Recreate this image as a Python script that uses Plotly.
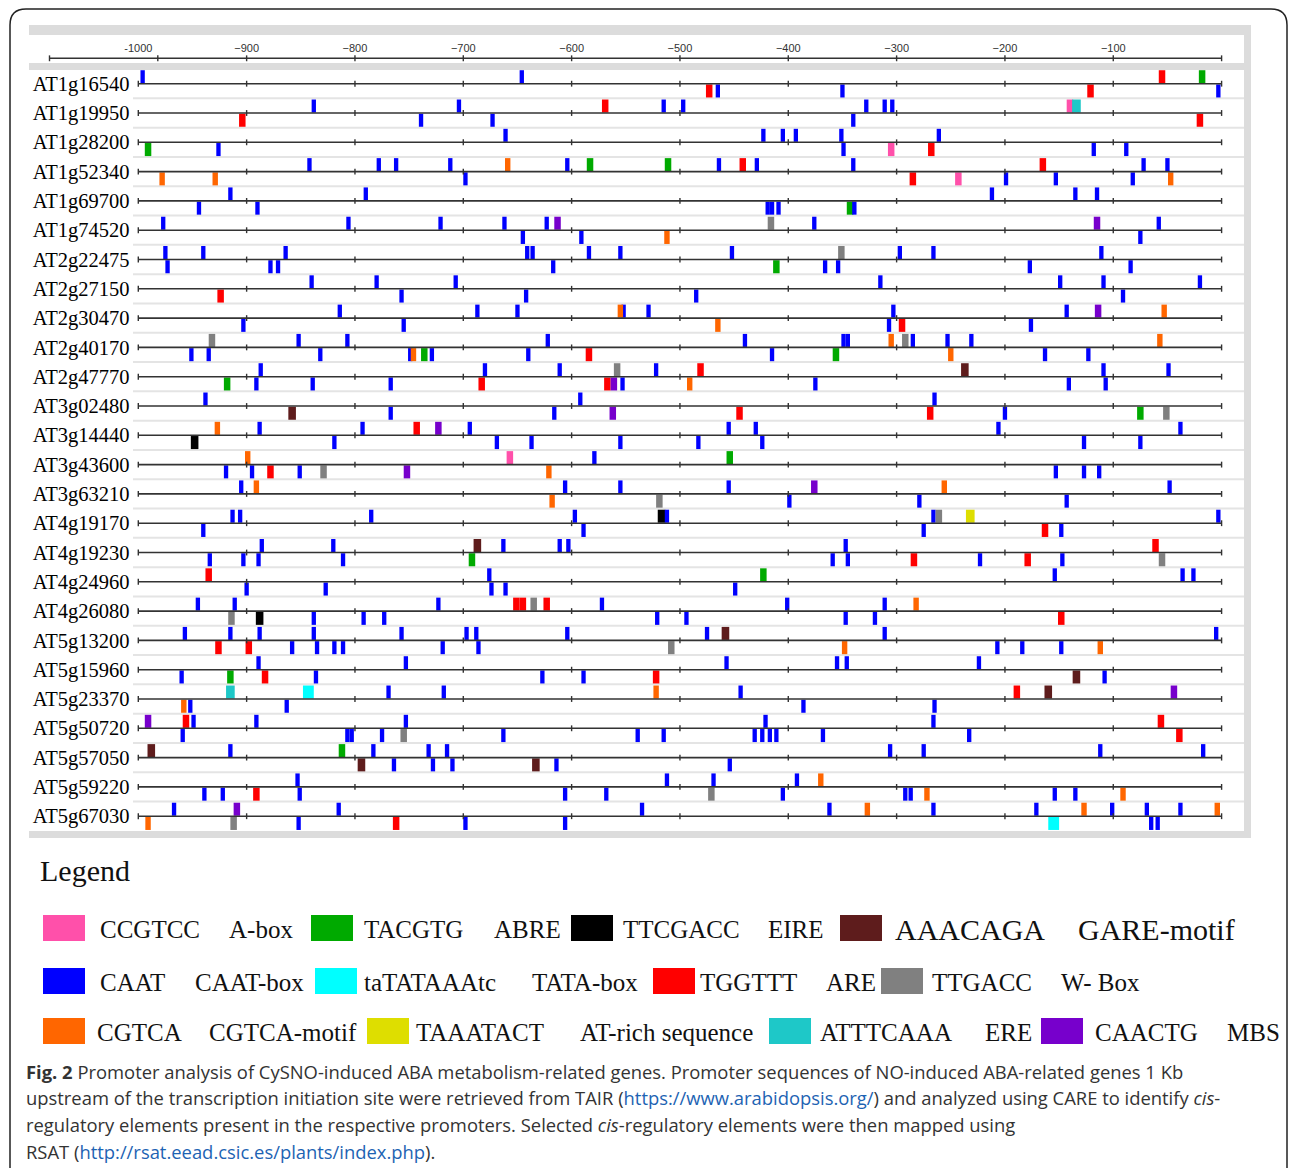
import plotly.graph_objects as go

# ---------------- data ----------------
GENES = ["AT1g16540", "AT1g19950", "AT1g28200", "AT1g52340", "AT1g69700", "AT1g74520",
         "AT2g22475", "AT2g27150", "AT2g30470", "AT2g40170", "AT2g47770", "AT3g02480",
         "AT3g14440", "AT3g43600", "AT3g63210", "AT4g19170", "AT4g19230", "AT4g24960",
         "AT4g26080", "AT5g13200", "AT5g15960", "AT5g23370", "AT5g50720", "AT5g57050",
         "AT5g59220", "AT5g67030"]

AXIS_TICKS = [-1000, -900, -800, -700, -600, -500, -400, -300, -200, -100]
AXIS_TICK_TEXT = ["-1000", "\u2212900", "\u2212800", "\u2212700", "\u2212600", "\u2212500",
                  "\u2212400", "\u2212300", "\u2212200", "\u2212100"]

MOTIF_CODES = ["P", "G", "K", "N", "B", "C", "R", "Y", "O", "L", "T", "V"]
MOTIF_SEQS = ["CCGTCC", "TACGTG", "TTCGACC", "AAACAGA", "CAAT", "taTATAAAtc",
              "TGGTTT", "TTGACC", "CGTCA", "TAAATACT", "ATTTCAAA", "CAACTG"]
MOTIF_NAMES = ["A-box", "ABRE", "EIRE", "GARE-motif", "CAAT-box", "TATA-box",
               "ARE", "W- Box", "CGTCA-motif", "AT-rich sequence", "ERE", "MBS"]
MOTIF_COLORS = ["#ff50aa", "#00aa00", "#000000", "#5e1c1c", "#0000ff", "#00ffff",
                "#ff0000", "#808080", "#ff6600", "#dede00", "#1ec8c8", "#7700cc"]

# marks per gene: (position, strand, motif code)
AT1g16540 = [(-996, "+", "B"), (-646, "+", "B"), (-55, "+", "R"), (-18, "+", "G"),
             (-473, "-", "R"), (-465, "-", "B"), (-350, "-", "B"), (-121, "-", "R"), (-3, "-", "B")]
AT1g19950 = [(-838, "+", "B"), (-704, "+", "B"), (-569, "+", "R"), (-515, "+", "B"), (-497, "+", "B"),
             (-328, "+", "B"), (-311, "+", "B"), (-304, "+", "B"), (-140, "+", "P"), (-134, "+", "T"),
             (-904, "-", "R"), (-739, "-", "B"), (-673, "-", "B"), (-340, "-", "B"), (-20, "-", "R")]
AT1g28200 = [(-661, "+", "B"), (-423, "+", "B"), (-405, "+", "B"), (-393, "+", "B"), (-351, "+", "B"),
             (-261, "+", "B"),
             (-991, "-", "G"), (-926, "-", "B"), (-349, "-", "B"), (-305, "-", "P"), (-268, "-", "R"),
             (-118, "-", "B"), (-88, "-", "B")]
AT1g52340 = [(-842, "+", "B"), (-778, "+", "B"), (-762, "+", "B"), (-712, "+", "B"), (-659, "+", "O"),
             (-604, "+", "B"), (-583, "+", "G"), (-511, "+", "G"), (-464, "+", "B"), (-442, "+", "R"),
             (-429, "+", "B"), (-340, "+", "B"), (-165, "+", "R"), (-72, "+", "B"), (-50, "+", "B"),
             (-978, "-", "O"), (-929, "-", "O"), (-698, "-", "B"), (-285, "-", "R"), (-243, "-", "P"),
             (-199, "-", "B"), (-153, "-", "B"), (-82, "-", "B"), (-47, "-", "O")]
AT1g69700 = [(-915, "+", "B"), (-790, "+", "B"), (-212, "+", "B"), (-135, "+", "B"), (-115, "+", "B"),
             (-944, "-", "B"), (-890, "-", "B"), (-419, "-", "B"), (-415, "-", "B"), (-409, "-", "B"),
             (-343, "-", "G"), (-339, "-", "B")]
AT1g74520 = [(-977, "+", "B"), (-806, "+", "B"), (-721, "+", "B"), (-662, "+", "B"), (-623, "+", "B"),
             (-613, "+", "V"), (-416, "+", "Y"), (-376, "+", "B"), (-115, "+", "V"), (-58, "+", "B"),
             (-645, "-", "B"), (-591, "-", "B"), (-512, "-", "O"), (-75, "-", "B")]
AT2g22475 = [(-975, "+", "B"), (-940, "+", "B"), (-864, "+", "B"), (-641, "+", "B"), (-636, "+", "B"),
             (-584, "+", "B"), (-555, "+", "B"), (-452, "+", "B"), (-351, "+", "Y"), (-297, "+", "B"),
             (-266, "+", "B"), (-111, "+", "B"),
             (-973, "-", "B"), (-878, "-", "B"), (-871, "-", "B"), (-617, "-", "B"), (-411, "-", "G"),
             (-366, "-", "B"), (-354, "-", "B"), (-177, "-", "B"), (-84, "-", "B")]
AT2g27150 = [(-840, "+", "B"), (-780, "+", "B"), (-707, "+", "B"), (-315, "+", "B"), (-149, "+", "B"),
             (-109, "+", "B"), (-20, "+", "B"),
             (-924, "-", "R"), (-757, "-", "B"), (-642, "-", "B"), (-485, "-", "B"), (-91, "-", "B")]
AT2g30470 = [(-814, "+", "B"), (-687, "+", "B"), (-650, "+", "B"), (-555, "+", "O"), (-552, "+", "B"),
             (-529, "+", "B"), (-303, "+", "B"), (-143, "+", "B"), (-114, "+", "V"), (-53, "+", "O"),
             (-903, "-", "B"), (-755, "-", "B"), (-465, "-", "O"), (-307, "-", "B"), (-295, "-", "R"),
             (-176, "-", "B")]
AT2g40170 = [(-932, "+", "Y"), (-852, "+", "B"), (-807, "+", "B"), (-622, "+", "B"), (-440, "+", "B"),
             (-349, "+", "B"), (-345, "+", "B"), (-305, "+", "O"), (-292, "+", "Y"), (-285, "+", "B"),
             (-253, "+", "B"), (-231, "+", "B"), (-57, "+", "O"),
             (-951, "-", "B"), (-935, "-", "B"), (-832, "-", "B"), (-749, "-", "B"), (-746, "-", "O"),
             (-736, "-", "G"), (-729, "-", "B"), (-640, "-", "B"), (-584, "-", "R"), (-415, "-", "B"),
             (-356, "-", "G"), (-250, "-", "O"), (-163, "-", "B"), (-123, "-", "B")]
AT2g47770 = [(-887, "+", "B"), (-680, "+", "B"), (-611, "+", "B"), (-558, "+", "Y"), (-522, "+", "B"),
             (-481, "+", "R"), (-237, "+", "N"), (-109, "+", "B"), (-49, "+", "B"),
             (-918, "-", "G"), (-891, "-", "B"), (-839, "-", "B"), (-767, "-", "B"), (-683, "-", "R"),
             (-567, "-", "R"), (-561, "-", "V"), (-553, "-", "B"), (-491, "-", "O"), (-375, "-", "B"),
             (-141, "-", "B"), (-107, "-", "B")]
AT3g02480 = [(-938, "+", "B"), (-592, "+", "B"), (-265, "+", "B"),
             (-858, "-", "N"), (-767, "-", "B"), (-616, "-", "B"), (-562, "-", "V"), (-445, "-", "R"),
             (-269, "-", "R"), (-200, "-", "B"), (-75, "-", "G"), (-51, "-", "Y")]
AT3g14440 = [(-927, "+", "O"), (-888, "+", "B"), (-793, "+", "B"), (-743, "+", "R"), (-723, "+", "V"),
             (-694, "+", "B"), (-455, "+", "B"), (-430, "+", "B"), (-206, "+", "B"), (-38, "+", "B"),
             (-948, "-", "K"), (-819, "-", "B"), (-669, "-", "B"), (-637, "-", "B"), (-555, "-", "B"),
             (-483, "-", "B"), (-424, "-", "B"), (-127, "-", "B"), (-75, "-", "B")]
AT3g43600 = [(-899, "+", "O"), (-657, "+", "P"), (-579, "+", "B"), (-454, "+", "G"),
             (-919, "-", "B"), (-895, "-", "B"), (-878, "-", "R"), (-851, "-", "B"), (-829, "-", "Y"),
             (-752, "-", "V"), (-621, "-", "O"), (-153, "-", "B"), (-127, "-", "B"), (-113, "-", "B")]
AT3g63210 = [(-905, "+", "B"), (-891, "+", "O"), (-606, "+", "B"), (-555, "+", "B"), (-455, "+", "B"),
             (-376, "+", "V"), (-256, "+", "O"), (-48, "+", "B"),
             (-618, "-", "O"), (-519, "-", "Y"), (-399, "-", "B"), (-279, "-", "B"), (-143, "-", "B")]
AT4g19170 = [(-913, "+", "B"), (-906, "+", "B"), (-785, "+", "B"), (-597, "+", "B"), (-517, "+", "K"),
             (-512, "+", "B"), (-266, "+", "B"), (-261, "+", "Y"), (-232, "+", "L"), (-3, "+", "B"),
             (-940, "-", "B"), (-589, "-", "B"), (-275, "-", "B"), (-163, "-", "R"), (-148, "-", "B")]
AT4g19230 = [(-886, "+", "B"), (-820, "+", "B"), (-687, "+", "N"), (-663, "+", "B"), (-611, "+", "B"),
             (-603, "+", "B"), (-347, "+", "B"), (-61, "+", "R"),
             (-934, "-", "B"), (-903, "-", "B"), (-889, "-", "B"), (-811, "-", "B"), (-692, "-", "G"),
             (-359, "-", "B"), (-345, "-", "B"), (-284, "-", "R"), (-223, "-", "B"), (-179, "-", "R"),
             (-147, "-", "B"), (-55, "-", "Y")]
AT4g24960 = [(-935, "+", "R"), (-676, "+", "B"), (-423, "+", "G"), (-154, "+", "B"), (-36, "+", "B"),
             (-26, "+", "B"),
             (-900, "-", "B"), (-827, "-", "B"), (-674, "-", "B"), (-661, "-", "B"), (-449, "-", "B")]
AT4g26080 = [(-945, "+", "B"), (-911, "+", "B"), (-723, "+", "B"), (-651, "+", "R"), (-645, "+", "R"),
             (-635, "+", "Y"), (-623, "+", "R"), (-572, "+", "B"), (-401, "+", "B"), (-311, "+", "B"),
             (-282, "+", "O"),
             (-914, "-", "Y"), (-888, "-", "K"), (-838, "-", "B"), (-792, "-", "B"), (-773, "-", "B"),
             (-521, "-", "B"), (-494, "-", "B"), (-347, "-", "B"), (-320, "-", "B"), (-148, "-", "R")]
AT5g13200 = [(-957, "+", "B"), (-915, "+", "B"), (-888, "+", "B"), (-838, "+", "B"), (-757, "+", "B"),
             (-697, "+", "B"), (-688, "+", "B"), (-604, "+", "B"), (-475, "+", "B"), (-458, "+", "N"),
             (-311, "+", "B"), (-5, "+", "B"),
             (-926, "-", "R"), (-898, "-", "R"), (-858, "-", "B"), (-835, "-", "B"), (-819, "-", "B"),
             (-811, "-", "B"), (-719, "-", "B"), (-686, "-", "B"), (-508, "-", "Y"), (-348, "-", "O"),
             (-207, "-", "B"), (-184, "-", "B"), (-148, "-", "B"), (-112, "-", "O")]
AT5g15960 = [(-889, "+", "B"), (-753, "+", "B"), (-457, "+", "B"), (-355, "+", "B"), (-346, "+", "B"),
             (-224, "+", "B"),
             (-960, "-", "B"), (-915, "-", "G"), (-883, "-", "R"), (-836, "-", "B"), (-627, "-", "B"),
             (-589, "-", "B"), (-522, "-", "R"), (-134, "-", "N"), (-108, "-", "B")]
AT5g23370 = [(-915, "+", "T"), (-843, "+", "C"), (-769, "+", "B"), (-718, "+", "B"), (-522, "+", "O"),
             (-444, "+", "B"), (-189, "+", "R"), (-160, "+", "N"), (-44, "+", "V"),
             (-958, "-", "O"), (-952, "-", "B"), (-863, "-", "B"), (-386, "-", "B"), (-265, "-", "B")]
AT5g50720 = [(-991, "+", "V"), (-956, "+", "R"), (-949, "+", "B"), (-891, "+", "B"), (-753, "+", "B"),
             (-421, "+", "B"), (-266, "+", "B"), (-56, "+", "R"),
             (-959, "-", "B"), (-807, "-", "B"), (-803, "-", "B"), (-775, "-", "B"), (-755, "-", "Y"),
             (-663, "-", "B"), (-539, "-", "B"), (-515, "-", "B"), (-431, "-", "B"), (-424, "-", "B"),
             (-417, "-", "B"), (-411, "-", "B"), (-368, "-", "B"), (-233, "-", "B"), (-39, "-", "R")]
AT5g57050 = [(-988, "+", "N"), (-915, "+", "B"), (-812, "+", "G"), (-783, "+", "B"), (-732, "+", "B"),
             (-715, "+", "B"), (-306, "+", "B"), (-275, "+", "B"), (-112, "+", "B"), (-17, "+", "B"),
             (-794, "-", "N"), (-764, "-", "B"), (-728, "-", "B"), (-710, "-", "B"), (-633, "-", "N"),
             (-614, "-", "B"), (-454, "-", "B")]
AT5g59220 = [(-853, "+", "B"), (-512, "+", "B"), (-469, "+", "B"), (-392, "+", "B"), (-370, "+", "O"),
             (-939, "-", "B"), (-922, "-", "B"), (-891, "-", "R"), (-851, "-", "B"), (-606, "-", "B"),
             (-568, "-", "B"), (-471, "-", "Y"), (-405, "-", "B"), (-292, "-", "B"), (-287, "-", "B"),
             (-272, "-", "O"), (-154, "-", "B"), (-135, "-", "B"), (-91, "-", "O")]
AT5g67030 = [(-967, "+", "B"), (-909, "+", "V"), (-815, "+", "B"), (-535, "+", "B"), (-362, "+", "B"),
             (-327, "+", "O"), (-266, "+", "B"), (-171, "+", "B"), (-127, "+", "O"), (-101, "+", "B"),
             (-69, "+", "B"), (-38, "+", "B"), (-4, "+", "O"),
             (-991, "-", "O"), (-912, "-", "Y"), (-852, "-", "B"), (-762, "-", "R"), (-698, "-", "B"),
             (-606, "-", "B"), (-155, "-", "C"), (-65, "-", "B"), (-59, "-", "B")]

GENE_MARKS = [AT1g16540, AT1g19950, AT1g28200, AT1g52340, AT1g69700, AT1g74520,
              AT2g22475, AT2g27150, AT2g30470, AT2g40170, AT2g47770, AT3g02480,
              AT3g14440, AT3g43600, AT3g63210, AT4g19170, AT4g19230, AT4g24960,
              AT4g26080, AT5g13200, AT5g15960, AT5g23370, AT5g50720, AT5g57050,
              AT5g59220, AT5g67030]

CAPTION_LINES = [
    "<b>Fig. 2</b> Promoter analysis of CySNO-induced ABA metabolism-related genes. Promoter sequences of NO-induced ABA-related genes 1 Kb",
    "upstream of the transcription initiation site were retrieved from TAIR (<span style='color:#1d63b3'>https://www.arabidopsis.org/</span>) and analyzed using CARE to identify <i>cis</i>-",
    "regulatory elements present in the respective promoters. Selected <i>cis</i>-regulatory elements were then mapped using",
    "RSAT (<span style='color:#1d63b3'>http://rsat.eead.csic.es/plants/index.php</span>).",
]

# ---------------- geometry ----------------
W, H = 1290, 1168
X0_PX, PX_PER_BP = 138.3, 1.0833          # pixel of -1000 and scale
ROW0_PX, ROW_PX = 83.7, 29.3              # first row line pixel and row pitch
x_range = [-1000 - X0_PX / PX_PER_BP, -1000 + (W - X0_PX) / PX_PER_BP]
y_range = [(H - ROW0_PX) / ROW_PX, -ROW0_PX / ROW_PX]


def px2x(px):
    return -1000 + (px - X0_PX) / PX_PER_BP


def py2y(py):
    return (py - ROW0_PX) / ROW_PX


def PX(px):
    return px / W


def PY(py):
    return 1 - py / H


fig = go.Figure()
LINE_COL = "#333333"
n = len(GENES)

# row lines + ticks
lx, ly, tx, ty = [], [], [], []
tick_pos = [-1000] + AXIS_TICKS[1:] + [0]
for i in range(n):
    lx += [-1000, 0, None]
    ly += [i, i, None]
    for t in tick_pos:
        tx += [t, t, None]
        ty += [i - 0.1, i + 0.1, None]
fig.add_trace(go.Scatter(x=lx, y=ly, mode="lines", line=dict(color=LINE_COL, width=1.6),
                         hoverinfo="skip", showlegend=False))
fig.add_trace(go.Scatter(x=tx, y=ty, mode="lines", line=dict(color=LINE_COL, width=1.4),
                         hoverinfo="skip", showlegend=False))

# ruler at top
ry = py2y(58.3)
r_start = px2x(49.5)
ruler_ticks = [r_start, px2x(157.8)] + AXIS_TICKS[1:] + [0]
rx, rty = [r_start, 0], [ry, ry]
for t in ruler_ticks:
    rx += [None, t, t]
    rty += [None, ry - 0.1, ry + 0.1]
fig.add_trace(go.Scatter(x=rx, y=rty, mode="lines", line=dict(color=LINE_COL, width=1.4),
                         hoverinfo="skip", showlegend=False))

# motif marks
HGT = 0.445
for code, seq, col in zip(MOTIF_CODES, MOTIF_SEQS, MOTIF_COLORS):
    xs, bs, ws = [], [], []
    for i, marks in enumerate(GENE_MARKS):
        for pos, strand, c in marks:
            if c != code:
                continue
            xs.append(pos)
            ws.append(len(seq))
            bs.append(i - 0.015 - HGT if strand == "+" else i + 0.025)
    if xs:
        fig.add_trace(go.Bar(x=xs, y=[HGT] * len(xs), base=bs, width=ws,
                             marker=dict(color=col, line=dict(width=0)),
                             hoverinfo="skip", showlegend=False))

# ---------------- decorations ----------------
shapes = []
BAND = "#dcdcdc"
for (x0, y0, x1, y1) in [(29, 25, 1251, 35), (29, 63, 1251, 70), (29, 831, 1251, 838),
                         (1244, 25, 1251, 838)]:
    shapes.append(dict(type="rect", xref="paper", yref="paper", x0=PX(x0), x1=PX(x1),
                       y0=PY(y1), y1=PY(y0), fillcolor=BAND, line=dict(width=0), layer="below"))
# row separators
for i in range(n - 1):
    yy = PY(ROW0_PX + (i + 0.5) * ROW_PX)
    shapes.append(dict(type="line", xref="paper", yref="paper", x0=PX(133), x1=PX(1244),
                       y0=yy, y1=yy, line=dict(color="#e4e4e4", width=2), layer="below"))
# outer rounded frame
r = 16
path = (f"M {PX(10)},{PY(H)} L {PX(10)},{PY(9 + r)} Q {PX(10)},{PY(9)} {PX(10 + r)},{PY(9)} "
        f"L {PX(1287 - r)},{PY(9)} Q {PX(1287)},{PY(9)} {PX(1287)},{PY(9 + r)} L {PX(1287)},{PY(H)}")
shapes.append(dict(type="path", xref="paper", yref="paper", path=path,
                   line=dict(color="#222222", width=1.5)))

annotations = []
SERIF = "Liberation Serif"
annotations.append(dict(x=PX(38), y=PY(870), xref="paper", yref="paper", xanchor="left",
                        yanchor="middle", text="Legend", showarrow=False,
                        font=dict(family=SERIF, size=30, color="#111")))

LEG_ROWS = [928, 981, 1031]
LEG_SLOTS = [(0, 43, 98, 227, 25), (0, 311, 362, 492, 25), (0, 571, 621, 766, 25), (0, 840, 893, 1076, 30),
             (1, 43, 98, 193, 25), (1, 315, 362, 530, 25), (1, 653, 698, 824, 25), (1, 881, 930, 1059, 25),
             (2, 43, 95, 207, 25), (2, 367, 414, 578, 25), (2, 769, 818, 983, 25), (2, 1041, 1093, 1225, 25)]
for (row, bx, sx, nx, fs), seq, name, col in zip(LEG_SLOTS, MOTIF_SEQS, MOTIF_NAMES, MOTIF_COLORS):
    cy = LEG_ROWS[row]
    shapes.append(dict(type="rect", xref="paper", yref="paper", x0=PX(bx), x1=PX(bx + 42),
                       y0=PY(cy + 13), y1=PY(cy - 13), fillcolor=col, line=dict(width=0)))
    for tx_, txt in [(sx, seq), (nx, name)]:
        annotations.append(dict(x=PX(tx_), y=PY(cy + 1), xref="paper", yref="paper", xanchor="left",
                                yanchor="middle", text=txt, showarrow=False,
                                font=dict(family=SERIF, size=fs, color="#111")))

for k, line in enumerate(CAPTION_LINES):
    annotations.append(dict(x=PX(24), y=PY(1071 + k * 26.7), xref="paper", yref="paper",
                            xanchor="left", yanchor="middle", text=line, showarrow=False,
                            font=dict(family="Open Sans", size=18.4, color="#333333")))

fig.update_layout(
    width=W, height=H, margin=dict(l=0, r=0, t=0, b=0),
    paper_bgcolor="white", plot_bgcolor="rgba(0,0,0,0)",
    barmode="overlay", showlegend=False,
    shapes=shapes, annotations=annotations,
    xaxis=dict(range=x_range, domain=[0, 1], anchor="free", position=PY(54), side="top",
               tickvals=AXIS_TICKS, ticktext=AXIS_TICK_TEXT, ticks="", showgrid=False,
               zeroline=False, showline=False, automargin=False,
               tickfont=dict(family="Liberation Sans", size=11, color="#333")),
    yaxis=dict(range=y_range, domain=[0, 1], anchor="free", position=PX(129.5),
               tickvals=list(range(n)), ticktext=GENES, ticks="", showgrid=False,
               zeroline=False, showline=False, automargin=False,
               tickfont=dict(family=SERIF, size=20.5, color="#000")),
)

fig.write_html("out.html", config={"displayModeBar": False},
               post_script="document.body.style.margin='0px';document.body.style.overflow='hidden';")
